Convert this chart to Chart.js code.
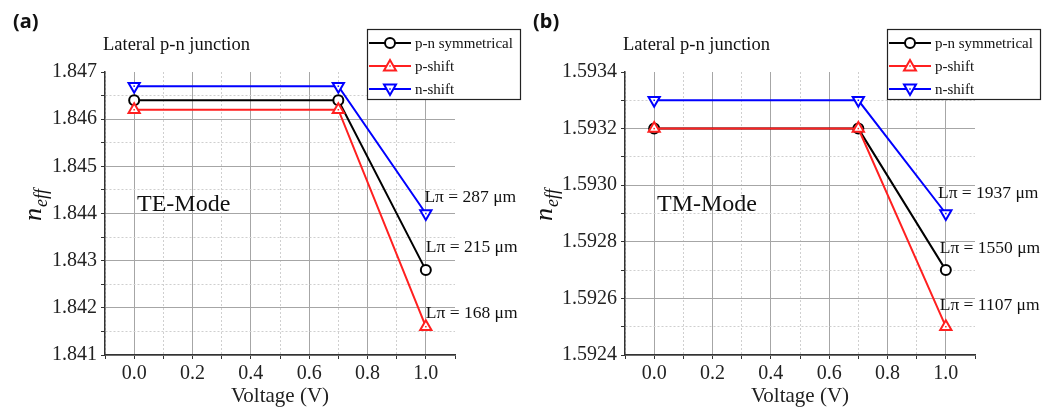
<!DOCTYPE html>
<html lang="en"><head>
<meta charset="utf-8">
<title>n_eff vs voltage — lateral p-n junction</title>
<script src="https://cdn.jsdelivr.net/npm/chart.js@4"></script>
<style>
*{box-sizing:border-box;margin:0;padding:0}
body{background:#fff;width:1057px;height:410px;overflow:hidden;position:relative}
.panel{position:absolute;top:0;height:410px}
#pa{left:0;width:528px}
#pb{left:528px;width:529px}
</style></head><body>
<div class="panel" id="pa"><canvas id="c-te" width="528" height="410"></canvas></div>
<div class="panel" id="pb"><canvas id="c-tm" width="529" height="410"></canvas></div>
<script>
const voltage=[0,0.7,1.0];
const seriesNames=['p-n symmetrical','p-shift','n-shift'];
// (a) TE mode
const teSym=[1.8464,1.8464,1.8428];
const tePShift=[1.8462,1.8462,1.8416];
const teNShift=[1.8467,1.8467,1.8440];
const teLpi=['Lπ = 287 μm','Lπ = 215 μm','Lπ = 168 μm'];
const teLpiAt=[[0.995,1.84435],[1.0,1.84329],[1.0,1.84189]];
// (b) TM mode
const tmSym=[1.5932,1.5932,1.5927];
const tmPShift=[1.5932,1.5932,1.5925];
const tmNShift=[1.5933,1.5933,1.5929];
const tmLpi=['Lπ = 1937 μm','Lπ = 1550 μm','Lπ = 1107 μm'];
const tmLpiAt=[[0.973,1.592972],[0.979,1.592775],[0.979,1.592577]];

const SERIF="'Liberation Serif', serif";
const styles=[
  {color:'#000',shape:'circle',rot:0,order:2},
  {color:'#ff2020',shape:'triangle',rot:0,order:1},
  {color:'#0000ff',shape:'triangle',rot:180,order:3}
];

function marker(ctx,s,x,y){
  ctx.save();ctx.lineWidth=2;ctx.strokeStyle=s.color;ctx.fillStyle='#fff';
  ctx.beginPath();
  if(s.shape==='circle'){ctx.arc(x,y,5,0,Math.PI*2)}
  else{const d=s.rot?-1:1;ctx.moveTo(x,y-6*d);ctx.lineTo(x+6,y+4.5*d);ctx.lineTo(x-6,y+4.5*d);ctx.closePath()}
  ctx.fill();ctx.stroke();
  if(s.shape!=='circle'){ctx.fillStyle=s.color;ctx.fillRect(x-0.75,y-0.75,1.5,1.5)}
  ctx.restore();
}

function gridOpts(unit){
  const minor=c=>c.tick&&Math.abs(Math.round(c.tick.value/unit))%2===1;
  return {
    grid:{color:c=>c.index===c.scale.ticks.length-1?'rgba(0,0,0,0)':(minor(c)?'#cfcfcf':'#a6a6a6'),
      lineWidth:1,tickLength:4,tickColor:'#333',tickWidth:1},
    border:{color:'#333',width:1.5,dash:c=>minor(c)?[2,2]:[]}
  };
}

const decoPlugin={
  id:'deco',
  afterDatasetsDraw(chart){
    const ctx=chart.ctx;
    chart.data.datasets.forEach((ds,i)=>{
      if(styles[i].shape==='circle')return;
      chart.getDatasetMeta(i).data.forEach(p=>{ctx.fillStyle=styles[i].color;ctx.fillRect(p.x-0.75,p.y-0.75,1.5,1.5)});
    });
  },
  afterDraw(chart,args,o){
    const ctx=chart.ctx,xs=chart.scales.x,ys=chart.scales.y;
    ctx.save();
    ctx.fillStyle='#111';ctx.textBaseline='middle';ctx.textAlign='left';
    ctx.font="bold 20px 'Noto Sans', sans-serif";
    ctx.fillText(o.panel,o.panelX,22);
    ctx.font='18.5px '+SERIF;
    ctx.fillText('Lateral p-n junction',o.titleX,45);
    ctx.font='24px '+SERIF;
    ctx.fillText(o.mode,chart.chartArea.left+32,205);
    ctx.font='17.5px '+SERIF;
    o.lpi.forEach((t,i)=>ctx.fillText(t,xs.getPixelForValue(o.lpiAt[i][0]),ys.getPixelForValue(o.lpiAt[i][1])));
    // y title n_eff
    ctx.save();ctx.translate(o.nX,221);ctx.rotate(-Math.PI/2);ctx.textBaseline='alphabetic';
    ctx.font='italic 26px '+SERIF;ctx.fillText('n',0,0);
    const w=ctx.measureText('n').width;
    ctx.font='italic 18px '+SERIF;ctx.fillText('eff',w+1,6);
    ctx.restore();
    // legend
    const lx=o.legendX,ly=29;
    ctx.fillStyle='#fff';ctx.fillRect(lx,ly,153,70);
    ctx.strokeStyle='#222';ctx.lineWidth=1.2;ctx.strokeRect(lx+0.5,ly+0.5,153,70);
    seriesNames.forEach((name,i)=>{
      const y=ly+14+i*23;
      ctx.strokeStyle=styles[i].color;ctx.lineWidth=2;
      ctx.beginPath();ctx.moveTo(lx+2,y);ctx.lineTo(lx+44,y);ctx.stroke();
      marker(ctx,styles[i],lx+23,y);
      ctx.fillStyle='#111';ctx.font='15px '+SERIF;ctx.textBaseline='middle';
      ctx.fillText(name,lx+48,y+1);
    });
    ctx.restore();
  }
};

function makeChart(id,series,yMin,yMax,unit,digits,axisW,padRight,decoOpts){
  const g=gridOpts(0.1),gy=gridOpts(unit);
  return new Chart(document.getElementById(id),{
    type:'line',
    data:{datasets:series.map((vals,i)=>({
      label:seriesNames[i],
      data:voltage.map((x,j)=>({x,y:vals[j]})),
      borderColor:styles[i].color,backgroundColor:'#fff',borderWidth:2,
      pointStyle:styles[i].shape,pointRotation:styles[i].rot,
      pointRadius:styles[i].shape==='circle'?5:6.5,pointBorderWidth:2,
      pointBorderColor:styles[i].color,pointBackgroundColor:'#fff',
      tension:0,order:styles[i].order,clip:false
    }))},
    options:{
      responsive:false,animation:false,devicePixelRatio:1,
      layout:{padding:{left:0,right:padRight,top:72,bottom:0}},
      plugins:{legend:{display:false},tooltip:{enabled:false},deco:decoOpts},
      scales:{
        x:{type:'linear',min:-0.1,max:1.1,
          ticks:{stepSize:0.1,autoSkip:false,maxRotation:0,padding:3,color:'#222',font:{family:SERIF,size:20},
            callback:v=>{const k=Math.round(v*10);return(k>=0&&k<=10&&k%2===0)?(k/10).toFixed(1):''}},
          ...g,
          title:{display:true,text:'Voltage (V)',color:'#222',font:{family:SERIF,size:21},padding:{top:0,bottom:1}},
          afterFit:s=>{s.height=55}},
        y:{min:yMin,max:yMax,
          ticks:{stepSize:unit,autoSkip:false,padding:4,color:'#222',font:{family:SERIF,size:20},
            callback:v=>Math.abs(Math.round(v/unit))%2===0?v.toFixed(digits):''},
          ...gy,
          afterFit:s=>{s.width=axisW}}
      }
    },
    plugins:[decoPlugin]
  });
}

makeChart('c-te',[teSym,tePShift,teNShift],1.841,1.847,0.0005,3,105,73,
  {panel:'(a)',panelX:13,titleX:103,mode:'TE-Mode',lpi:teLpi,lpiAt:teLpiAt,nX:41,legendX:367});
makeChart('c-tm',[tmSym,tmPShift,tmNShift],1.5924,1.5934,0.0001,4,97,82,
  {panel:'(b)',panelX:5,titleX:95,mode:'TM-Mode',lpi:tmLpi,lpiAt:tmLpiAt,nX:24,legendX:359});
</script></body></html>
